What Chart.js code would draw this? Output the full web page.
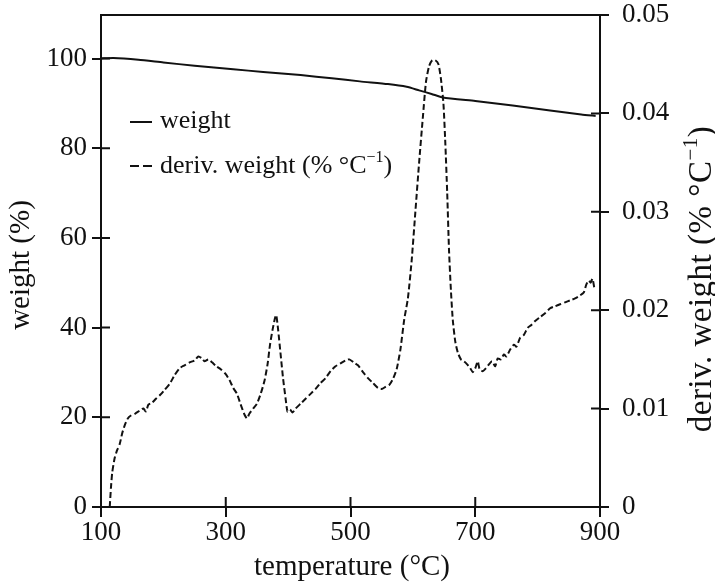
<!DOCTYPE html>
<html lang="en">
<head>
  <meta charset="UTF-8">
  <title>TGA weight and derivative weight</title>
  <script src="https://cdn.jsdelivr.net/npm/chart.js"></script>
  <style>
    body {
      margin: 0;
      background: #fff;
    }
  </style>
</head>
<body>
  <canvas id="tga" width="715" height="585"></canvas>

  <script>
    // weight curve (left axis, %)
    const weightTemp = [100, 120, 160, 200, 250, 312, 360, 420, 470, 515, 560, 590, 610, 630, 648, 700, 760, 820, 870, 893];
    const weightVal  = [100, 100.1, 99.7, 99.1, 98.4, 97.6, 97.0, 96.3, 95.6, 94.9, 94.3, 93.7, 92.9, 92.1, 91.3, 90.5, 89.5, 88.4, 87.5, 87.2];

    // derivative weight curve (right axis, % per degC)
    const derivTemp = [114, 116, 118, 122, 126, 130, 134, 138, 143, 148, 155, 162, 168, 172, 176, 182, 188, 195, 202, 210,
      218, 226, 234, 242, 250, 256, 262, 266, 272, 278, 285, 292, 300, 306, 312, 318, 324, 330, 334, 338,
      344, 350, 356, 362, 367, 371, 375, 379, 381, 384, 388, 392, 396, 399, 403, 407, 412, 420, 428, 436,
      444, 452, 460, 468, 476, 484, 492, 498, 505, 512, 520, 528, 536, 544, 550, 556, 562, 568, 574, 580,
      586, 592, 598, 604, 610, 616, 621, 626, 631, 636, 641, 645, 649, 652, 655, 658, 661, 664, 668, 672,
      677, 682, 687, 692, 696, 700, 704, 707, 712, 717, 722, 727, 732, 736, 741, 746, 750, 756, 762, 766,
      772, 778, 784, 790, 796, 804, 812, 820, 828, 836, 844, 852, 860, 868, 874, 878, 882, 885, 888, 891];
    const derivVal = [0, 0.0020, 0.0035, 0.0050, 0.0058, 0.0064, 0.0075, 0.0083, 0.0090, 0.0093, 0.0095, 0.0098, 0.0100, 0.0097, 0.0104, 0.0106, 0.0110, 0.0114, 0.0119, 0.0125,
      0.0134, 0.0141, 0.0144, 0.0147, 0.0149, 0.0153, 0.0151, 0.0148, 0.0150, 0.0147, 0.0143, 0.0140, 0.0135, 0.0129, 0.0121, 0.0115, 0.0104, 0.0094, 0.0090, 0.0095,
      0.0100, 0.0105, 0.0115, 0.0128, 0.0145, 0.0165, 0.0180, 0.0192, 0.0195, 0.0180, 0.0155, 0.0130, 0.0110, 0.0097, 0.0099, 0.0096, 0.0100, 0.0105, 0.0110, 0.0115,
      0.0120, 0.0126, 0.0131, 0.0138, 0.0143, 0.0146, 0.0149, 0.0150, 0.0147, 0.0144, 0.0137, 0.0131, 0.0126, 0.0121, 0.0120, 0.0122, 0.0124, 0.0130, 0.0140, 0.0160,
      0.0190, 0.0212, 0.0250, 0.0300, 0.0350, 0.0396, 0.0432, 0.0448, 0.0454, 0.0454, 0.0450, 0.0435, 0.0410, 0.0370, 0.0320, 0.0260, 0.0220, 0.0190, 0.0168, 0.0157,
      0.0150, 0.0148, 0.0145, 0.0141, 0.0137, 0.0141, 0.0148, 0.0140, 0.0138, 0.0141, 0.0145, 0.0148, 0.0143, 0.0151, 0.0150, 0.0155, 0.0153, 0.0160, 0.0165, 0.0163,
      0.0172, 0.0175, 0.0182, 0.0185, 0.0189, 0.0193, 0.0197, 0.0202, 0.0204, 0.0206, 0.0208, 0.0210, 0.0212, 0.0215, 0.0218, 0.0226, 0.0230, 0.0228, 0.0232, 0.0222];

    const xTicks = [100, 300, 500, 700, 900];
    const leftTicks = [0, 20, 40, 60, 80, 100];
    const rightTicks = [0, 0.01, 0.02, 0.03, 0.04, 0.05];

    const FONT = "'Liberation Serif', 'DejaVu Serif', serif";
    const INK = '#111';

    const toPoints = (xs, ys) => xs.map((x, i) => ({ x: x, y: ys[i] }));

    // box, inner half of the tick marks, titles and legend
    const decor = {
      id: 'decor',
      afterDraw(chart) {
        const { ctx, chartArea: a, scales } = chart;
        ctx.save();
        ctx.strokeStyle = INK;
        ctx.fillStyle = INK;
        ctx.lineWidth = 2;
        ctx.strokeRect(a.left, a.top, a.right - a.left, a.bottom - a.top);

        ctx.beginPath();
        xTicks.forEach(v => {
          const px = scales.x.getPixelForValue(v);
          ctx.moveTo(px, a.bottom);
          ctx.lineTo(px, a.bottom - 10);
        });
        leftTicks.forEach(v => {
          const py = scales.y.getPixelForValue(v);
          ctx.moveTo(a.left, py);
          ctx.lineTo(a.left + 9, py);
        });
        rightTicks.forEach(v => {
          const py = scales.y1.getPixelForValue(v);
          ctx.moveTo(a.right, py);
          ctx.lineTo(a.right - 9, py);
        });
        ctx.stroke();

        // x title
        ctx.font = '29px ' + FONT;
        ctx.textAlign = 'center';
        ctx.textBaseline = 'alphabetic';
        ctx.fillText('temperature (°C)', 352, 575);

        // left title
        ctx.save();
        ctx.translate(21, 265);
        ctx.rotate(-Math.PI / 2);
        ctx.textBaseline = 'middle';
        ctx.fillText('weight (%)', 0, 0);
        ctx.restore();

        // right title, with superscript
        ctx.save();
        ctx.translate(702, 279);
        ctx.rotate(-Math.PI / 2);
        ctx.textBaseline = 'middle';
        ctx.textAlign = 'left';
        ctx.letterSpacing = '0.5px';
        const main = 'deriv. weight (% °C';
        ctx.font = '33px ' + FONT;
        const w1 = ctx.measureText(main).width;
        ctx.font = '21px ' + FONT;
        const w2 = ctx.measureText('−1').width;
        ctx.font = '33px ' + FONT;
        const w3 = ctx.measureText(')').width;
        const x0 = -(w1 + w2 + w3) / 2;
        ctx.fillText(main, x0, 0);
        ctx.font = '21px ' + FONT;
        ctx.fillText('−1', x0 + w1, -11);
        ctx.font = '33px ' + FONT;
        ctx.fillText(')', x0 + w1 + w2, 0);
        ctx.restore();

        // legend
        ctx.lineWidth = 2;
        ctx.beginPath();
        ctx.moveTo(130, 122);
        ctx.lineTo(152, 122);
        ctx.stroke();
        ctx.setLineDash([9, 4]);
        ctx.beginPath();
        ctx.moveTo(130, 166);
        ctx.lineTo(152, 166);
        ctx.stroke();
        ctx.setLineDash([]);

        ctx.textAlign = 'left';
        ctx.textBaseline = 'alphabetic';
        ctx.font = '26px ' + FONT;
        ctx.fillText('weight', 160, 128);
        const lg = 'deriv. weight (% °C';
        ctx.fillText(lg, 160, 173);
        const lw = ctx.measureText(lg).width;
        ctx.font = '16px ' + FONT;
        ctx.fillText('−1', 160 + lw, 162);
        const sw = ctx.measureText('−1').width;
        ctx.font = '26px ' + FONT;
        ctx.fillText(')', 160 + lw + sw, 173);

        ctx.restore();
      }
    };

    const fitY = w => s => {
      s.width = w;
      s.paddingTop = 0;
      s.paddingBottom = 0;
    };

    new Chart(document.getElementById('tga').getContext('2d'), {
      type: 'line',
      data: {
        datasets: [{
          label: 'weight',
          data: toPoints(weightTemp, weightVal),
          yAxisID: 'y',
          borderColor: INK,
          borderWidth: 2,
          pointRadius: 0,
          tension: 0.2,
          fill: false
        }, {
          label: 'deriv. weight (% °C⁻¹)',
          data: toPoints(derivTemp, derivVal),
          yAxisID: 'y1',
          borderColor: INK,
          borderWidth: 2,
          borderDash: [6, 3],
          pointRadius: 0,
          tension: 0.2,
          fill: false
        }]
      },
      options: {
        responsive: false,
        animation: false,
        layout: { padding: { top: 15, left: 0, right: 0, bottom: 0 } },
        plugins: {
          legend: { display: false },
          tooltip: { enabled: false }
        },
        scales: {
          x: {
            type: 'linear',
            min: 100,
            max: 900,
            afterFit: s => { s.height = 78; s.paddingLeft = 0; s.paddingRight = 0; },
            afterBuildTicks: s => { s.ticks = xTicks.map(v => ({ value: v })); },
            grid: { drawOnChartArea: false, tickLength: 10, color: INK, lineWidth: 2 },
            border: { display: false },
            ticks: { color: INK, font: { family: FONT, size: 27 }, padding: 0, maxRotation: 0 }
          },
          y: {
            position: 'left',
            min: 0,
            max: 109.7,
            afterFit: fitY(101),
            afterBuildTicks: s => { s.ticks = leftTicks.map(v => ({ value: v })); },
            grid: { drawOnChartArea: false, tickLength: 9, color: INK, lineWidth: 2 },
            border: { display: false },
            ticks: { color: INK, font: { family: FONT, size: 27 }, padding: 5 }
          },
          y1: {
            position: 'right',
            min: 0,
            max: 0.05,
            afterFit: fitY(115),
            afterBuildTicks: s => { s.ticks = rightTicks.map(v => ({ value: v })); },
            grid: { drawOnChartArea: false, tickLength: 9, color: INK, lineWidth: 2 },
            border: { display: false },
            ticks: {
              color: INK,
              font: { family: FONT, size: 27 },
              padding: 13,
              callback: v => (v === 0 ? '0' : v.toFixed(2))
            }
          }
        }
      },
      plugins: [decor]
    });
  </script>
</body>
</html>
